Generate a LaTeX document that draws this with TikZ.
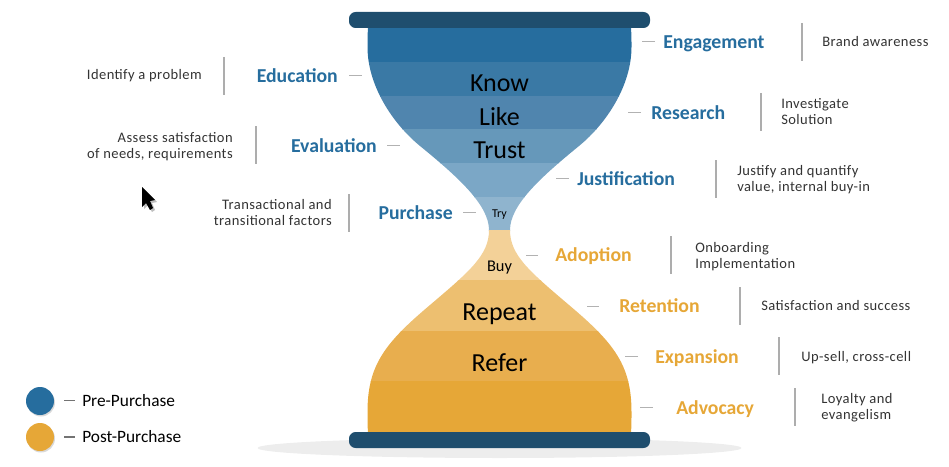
\documentclass[tikz,border=0pt]{standalone}
\usepackage{fontspec}
\setmainfont{Carlito}
\usepackage{xcolor}
\usetikzlibrary{shapes.geometric,positioning,calc}
\definecolor{precolor}{RGB}{38,109,158}
\definecolor{postcolor}{RGB}{230,167,55}
\definecolor{capcolor}{RGB}{31,78,110}
\definecolor{bandA}{RGB}{38,109,158}
\definecolor{bandB}{RGB}{58,121,165}
\definecolor{bandC}{RGB}{80,133,174}
\definecolor{bandD}{RGB}{102,152,186}
\definecolor{bandE}{RGB}{123,167,198}
\definecolor{bandF}{RGB}{143,180,206}
\definecolor{bandG}{RGB}{243,209,152}
\definecolor{bandH}{RGB}{237,191,112}
\definecolor{bandI}{RGB}{232,174,78}
\definecolor{bandJ}{RGB}{230,167,55}

\begin{document}
\begin{tikzpicture}[
    x=0.75pt, y=-0.75pt,
    stagepre/.style={font=\fontsize{14.8}{16}\selectfont\bfseries, text=precolor, inner sep=0pt},
    stagepost/.style={font=\fontsize{14.8}{16}\selectfont\bfseries, text=postcolor, inner sep=0pt},
    note/.style={font=\fontsize{10.9}{12}\selectfont\addfontfeature{LetterSpace=3}, text=black!80, inner sep=0pt},
    bigword/.style={font=\fontsize{19.5}{20}\selectfont, text=black, inner sep=0pt, anchor=base},
    smallword/.style={font=\fontsize{12.3}{13}\selectfont, text=black, inner sep=0pt, anchor=base},
    legendtext/.style={font=\fontsize{13}{14}\selectfont, text=black, inner sep=0pt, anchor=west},
    tick/.style={draw=black!30, line width=0.75pt},
    sepbar/.style={draw=black!32, line width=1.4pt},
    dot/.style={circle, minimum size=21pt, inner sep=0pt}
]
\useasboundingbox (0,0) rectangle (949,467);

% Floor shadow
\node[ellipse, fill=black!7, minimum width=363pt, minimum height=15pt, inner sep=0pt] (floor) at (499.5,448) {};

% Glass bands
\begin{scope}
\clip (368,28) .. controls (367.5,35) and (367.5,40) .. (367.5,47)
    .. controls (367.5,85) and (392,123) .. (420,146)
    .. controls (458,177) and (489,205) .. (489,230)
    .. controls (489,255) and (470,271) .. (430,305)
    .. controls (385,343) and (367.5,365) .. (367.5,412)
    .. controls (367.5,420) and (367.5,426) .. (368,433)
    -- (631,433)
    .. controls (631.5,426) and (631.5,420) .. (631.5,412)
    .. controls (631.5,365) and (614,343) .. (569,305)
    .. controls (529,271) and (510,255) .. (510,230)
    .. controls (510,205) and (541,177) .. (579,146)
    .. controls (607,123) and (631.5,85) .. (631.5,47)
    .. controls (631.5,40) and (631.5,35) .. (631,28) -- cycle;
\fill[bandA] (360,26) rectangle (640,62.5);
\fill[bandB] (360,62) rectangle (640,96.5);
\fill[bandC] (360,96) rectangle (640,129.5);
\fill[bandD] (360,129) rectangle (640,163.5);
\fill[bandE] (360,163) rectangle (640,197.5);
\fill[bandF] (360,197) rectangle (640,230.5);
\fill[bandG] (360,230) rectangle (640,280.5);
\fill[bandH] (360,280) rectangle (640,331.5);
\fill[bandI] (360,331) rectangle (640,381.5);
\fill[bandJ] (360,381) rectangle (640,435);
\end{scope}

% Caps
\node[rectangle, rounded corners=5pt, fill=capcolor, minimum width=225.75pt, minimum height=12pt, inner sep=0pt] (topcap) at (499.5,20) {};
\node[rectangle, rounded corners=5pt, fill=capcolor, minimum width=225.75pt, minimum height=12pt, inner sep=0pt] (bottomcap) at (499.5,440) {};

% Words in the glass
\node[bigword] (know) at (499.5,92) {Know};
\node[bigword] (like) at (499.5,125) {Like};
\node[bigword] (trust) at (499.5,158) {Trust};
\node[smallword, font=\fontsize{9}{10}\selectfont] (try) at (499.5,217.5) {Try};
\node[smallword] (buy) at (499.5,271) {Buy};
\node[bigword] (repeat) at (499.5,320) {Repeat};
\node[bigword] (refer) at (499.5,371) {Refer};

% Right side, pre-purchase
\node[stagepre, anchor=base west] (engagement) at (663,49) {Engagement};
\node[note, anchor=west, align=left] (engagementnote) at (822,42) {Brand awareness};
\draw[tick] ($(engagement.base west)+(-8,-7)$) -- ++(-13,0);
\draw[sepbar] ($(engagementnote.west |- engagement.base)+(-20,-26)$) -- ++(0,38);

\node[stagepre, anchor=base west] (research) at (651,119) {Research};
\node[note, anchor=west, align=left] (researchnote) at (781,112) {Investigate\\Solution};
\draw[tick] ($(research.base west)+(-10,-7)$) -- ++(-13,0);
\draw[sepbar] ($(researchnote.west |- research.base)+(-20,-26)$) -- ++(0,38);

\node[stagepre, anchor=base west] (justification) at (577,185) {Justification};
\node[note, anchor=west, align=left] (justificationnote) at (737,180) {Justify and quantify\\value, internal buy-in};
\draw[tick] ($(justification.base west)+(-8,-7)$) -- ++(-13,0);
\draw[sepbar] ($(justificationnote.west |- justification.base)+(-21,-25)$) -- ++(0,38);

% Right side, post-purchase
\node[stagepost, anchor=base west] (adoption) at (555,261) {Adoption};
\node[note, anchor=west, align=left] (adoptionnote) at (695,257) {Onboarding\\Implementation};
\draw[tick] ($(adoption.base west)+(-17,-6)$) -- ++(-12,0);
\draw[sepbar] ($(adoptionnote.west |- adoption.base)+(-24,-25)$) -- ++(0,38);

\node[stagepost, anchor=base west] (retention) at (619,312) {Retention};
\node[note, anchor=west, align=left] (retentionnote) at (761,306) {Satisfaction and success};
\draw[tick] ($(retention.base west)+(-20,-6)$) -- ++(-12,0);
\draw[sepbar] ($(retentionnote.west |- retention.base)+(-21,-25)$) -- ++(0,38);

\node[stagepost, anchor=base west] (expansion) at (655,363) {Expansion};
\node[note, anchor=west, align=left] (expansionnote) at (801,358) {Up-sell, cross-cell};
\draw[tick] ($(expansion.base west)+(-17,-7)$) -- ++(-13,0);
\draw[sepbar] ($(expansionnote.west |- expansion.base)+(-22,-26)$) -- ++(0,38);

\node[stagepost, anchor=base west] (advocacy) at (676,414) {Advocacy};
\node[note, anchor=west, align=left] (advocacynote) at (821,408) {Loyalty and\\evangelism};
\draw[tick] ($(advocacy.base west)+(-23,-7)$) -- ++(-13,0);
\draw[sepbar] ($(advocacynote.west |- advocacy.base)+(-26,-26)$) -- ++(0,38);

% Left side
\node[stagepre, anchor=base east] (education) at (338,83) {Education};
\node[note, anchor=east, align=right] (educationnote) at (202,76) {Identify a problem};
\draw[tick] ($(education.base east)+(11,-7)$) -- ++(13,0);
\draw[sepbar] ($(educationnote.east |- education.base)+(22,-26)$) -- ++(0,38);

\node[stagepre, anchor=base east] (evaluation) at (377,152) {Evaluation};
\node[note, anchor=east, align=right] (evaluationnote) at (233,147) {Assess satisfaction\\of needs, requirements};
\draw[tick] ($(evaluation.base east)+(10,-7)$) -- ++(13,0);
\draw[sepbar] ($(evaluationnote.east |- evaluation.base)+(23,-26)$) -- ++(0,38);

\node[stagepre, anchor=base east] (purchase) at (453,219) {Purchase};
\node[note, anchor=east, align=right] (purchasenote) at (332,213) {Transactional and\\transitional factors};
\draw[tick] ($(purchase.base east)+(10,-7)$) -- ++(13,0);
\draw[sepbar] ($(purchasenote.east |- purchase.base)+(17,-25)$) -- ++(0,38);

% Pointer
\fill[black!25] (144,189) -- (144,209) -- (148,205) -- (152,212) -- (155,210) -- (152,203) -- (157,202) -- cycle;
\fill[black] (142,187) -- (142,207) -- (146,203) -- (150,210) -- (153,208) -- (150,201) -- (155,200) -- cycle;

% Legend
\node[dot, fill=black!15] (preshadow) at (41,402.5) {};
\node[dot, fill=precolor] (predot) at (40,401) {};
\node[dot, fill=black!15] (postshadow) at (41,438.5) {};
\node[dot, fill=postcolor] (postdot) at (40,437) {};
\node[legendtext] (pretext) at (82,400.5) {Pre-Purchase};
\node[legendtext] (posttext) at (82,437) {Post-Purchase};
\draw[draw=black!55, line width=0.9pt] ($(pretext.west)+(-18,0)$) -- ++(11,0);
\draw[draw=black!55, line width=0.9pt] ($(posttext.west)+(-18,0)$) -- ++(11,0);

\end{tikzpicture}
\end{document}
